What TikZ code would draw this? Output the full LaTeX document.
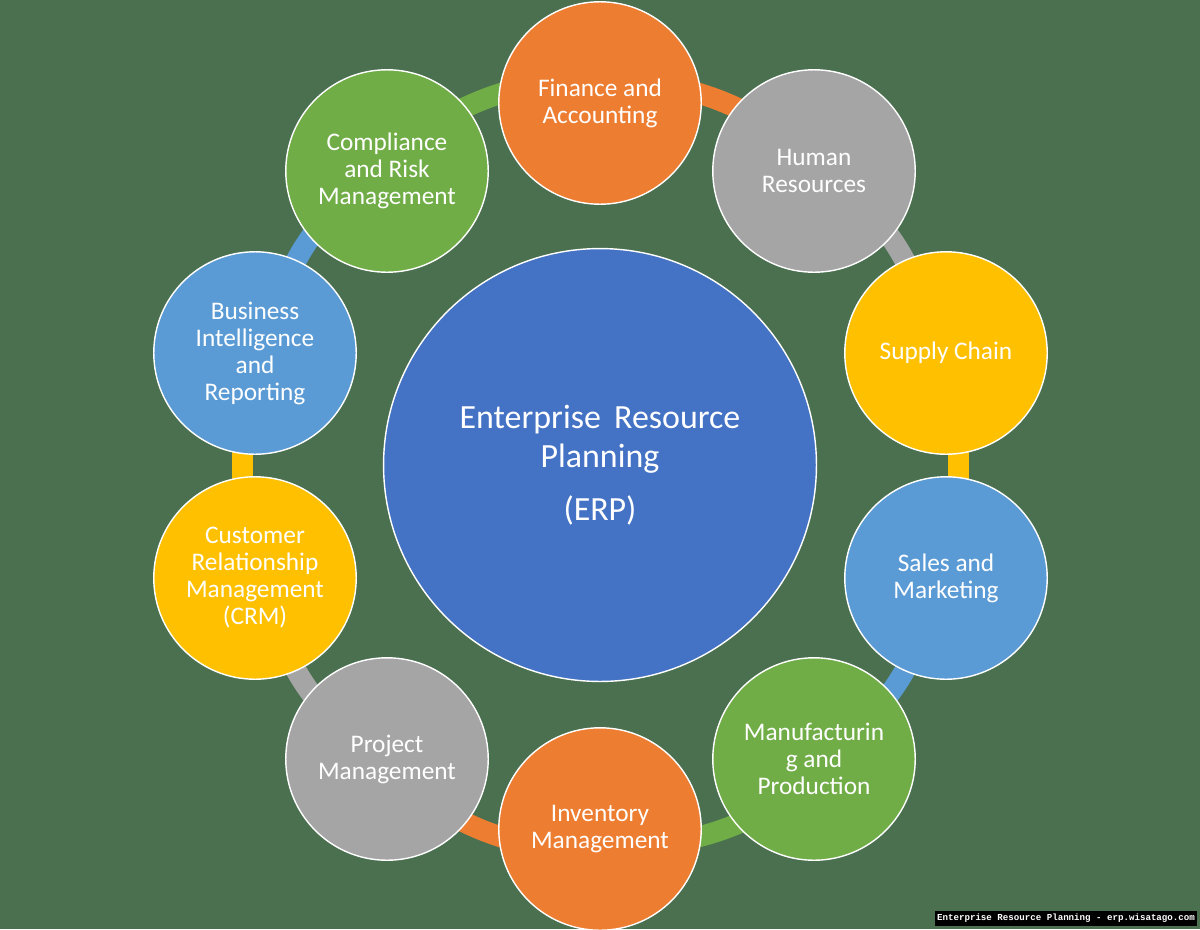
\documentclass[tikz,border=0pt]{standalone}
\usepackage{fontspec}
\setmainfont{Carlito}
\newfontfamily\captionfont{Liberation Mono}
\usepackage{xcolor}
\usepackage{tikz}
\usetikzlibrary{positioning,backgrounds}
\definecolor{backgreen}{HTML}{4A7050}
\definecolor{erpblue}{HTML}{4472C4}
\definecolor{modorange}{HTML}{ED7D31}
\definecolor{modgray}{HTML}{A5A5A5}
\definecolor{modyellow}{HTML}{FFC000}
\definecolor{modblue}{HTML}{5B9BD5}
\definecolor{modgreen}{HTML}{70AD47}
\tikzset{
    modulenode/.style={circle, draw=white, line width=1pt, fill=#1, minimum size=5.06cm, inner sep=0pt,
        text=white, align=center, font=\fontsize{18}{19.2}\selectfont},
    ringlink/.style={draw=#1, line width=0.52cm, bend left=4, shorten <=-0.3cm, shorten >=-0.3cm},
}

\begin{document}
\begin{tikzpicture}[x=0.025cm, y=-0.025cm]
    \useasboundingbox (0,0) rectangle (1200,929);
    % Centre
    \node[modulenode=erpblue, minimum size=10.82cm, font=\fontsize{24.1}{28}\selectfont] (erp) at (600,465)
        {Enterprise\, Resource\\Planning\\[0.33cm](ERP)};
    % Modules, clockwise from the top
    \node[modulenode=modorange] (finance) at (600,103) {Finance and\\Accounting};
    \node[modulenode=modgray] (human) at (814,171) {Human\\Resources};
    \node[modulenode=modyellow] (supply) at (946,353) {Supply Chain};
    \node[modulenode=modblue] (sales) at (946,578) {Sales and\\Marketing};
    \node[modulenode=modgreen] (manufacturing) at (814,759) {Manufacturin\\g and\\Production};
    \node[modulenode=modorange] (inventory) at (600,829) {Inventory\\Management};
    \node[modulenode=modgray] (project) at (387,759) {Project\\Management};
    \node[modulenode=modyellow] (crm) at (255,578) {Customer\\Relationship\\Management\\(CRM)};
    \node[modulenode=modblue] (reporting) at (255,353) {Business\\Intelligence\\and\\Reporting};
    \node[modulenode=modgreen] (compliance) at (387,171) {Compliance\\and Risk\\Management};
    \node[fill=black, text=white, inner sep=0pt, minimum width=6.55cm, minimum height=0.38cm,
        font=\captionfont\bfseries\fontsize{6.5}{7}\selectfont] (caption) at (1066,918.5)
        {Enterprise Resource Planning - erp.wisatago.com};
    \begin{pgfonlayer}{background}
        \fill[backgreen] (0,0) rectangle (1200,929);
        % Ring behind the modules
        \draw[ringlink=modgreen] (compliance.39) to (finance.175);
        \draw[ringlink=modorange] (finance.5) to (human.141);
        \draw[ringlink=modgray] (human.-41) to (supply.114);
        \draw[ringlink=modyellow, bend left=0] (supply.-83) to (sales.83);
        \draw[ringlink=modblue] (sales.-114) to (manufacturing.41);
        \draw[ringlink=modgreen] (manufacturing.-140) to (inventory.-4);
        \draw[ringlink=modorange] (inventory.-176) to (project.-39);
        \draw[ringlink=modgray] (project.139) to (crm.-66);
        \draw[ringlink=modyellow, bend left=0] (crm.97) to (reporting.-97);
        \draw[ringlink=modblue] (reporting.66) to (compliance.-139);
    \end{pgfonlayer}
\end{tikzpicture}
\end{document}
